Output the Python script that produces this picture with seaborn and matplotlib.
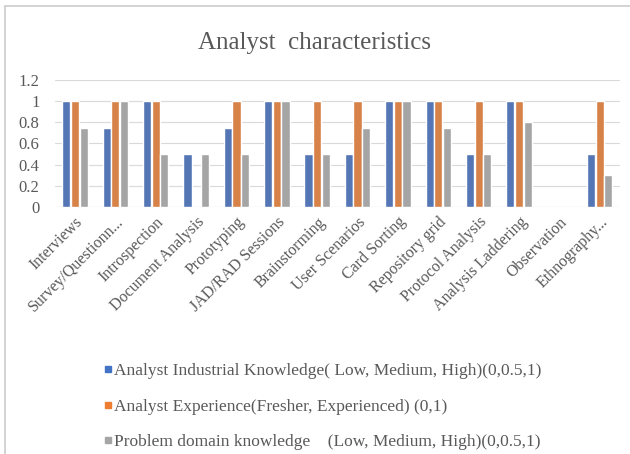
import numpy as np
import pandas as pd
import seaborn as sns
from matplotlib import pyplot as plt
from matplotlib.ticker import FuncFormatter
from matplotlib.lines import Line2D

techniques = ['Interviews', 'Survey/Questionn...', 'Introspection', 'Document Analysis',
              'Prototyping', 'JAD/RAD Sessions', 'Brainstorming', 'User Scenarios',
              'Card Sorting', 'Repository grid', 'Protocol Analysis', 'Analysis Laddering',
              'Observation', 'Ethnography...']
industrial = [1, 0.75, 1, 0.5, 0.75, 1, 0.5, 0.5, 1, 1, 0.5, 1, 0, 0.5]
experience = [1, 1, 1, 0, 1, 1, 1, 1, 1, 1, 1, 1, 0, 1]
domain = [0.75, 1, 0.5, 0.5, 0.5, 1, 0.5, 0.75, 1, 0.75, 0.5, 0.8, 0, 0.3]
series_names = ['Analyst Industrial Knowledge( Low, Medium, High)(0,0.5,1)',
                'Analyst Experience(Fresher, Experienced) (0,1)',
                'Problem domain knowledge    (Low, Medium, High)(0,0.5,1)']
colors = ['#4472C4', '#ED7D31', '#A5A5A5']

df = pd.DataFrame({'technique': techniques * 3,
                   'value': industrial + experience + domain,
                   'series': [series_names[0]] * 14 + [series_names[1]] * 14 + [series_names[2]] * 14})

sns.set_style('white')
plt.rcParams['font.family'] = ['Liberation Serif', 'DejaVu Serif']

fig = plt.figure(figsize=(6.3, 4.54), dpi=100)
ax = fig.add_axes([0.087, 0.544, 0.897, 0.28])
sns.barplot(data=df, x='technique', y='value', hue='series', palette=colors,
            width=0.64, gap=0.05, ax=ax, legend=False)

ax.set_ylim(0, 1.2)
ax.set_yticks([0, 0.2, 0.4, 0.6, 0.8, 1, 1.2])
ax.yaxis.set_major_formatter(FuncFormatter(lambda v, p: '%g' % v))
ax.grid(axis='y', color='#D9D9D9', linewidth=0.8)
ax.set_axisbelow(True)
for s in ax.spines.values():
    s.set_visible(False)
ax.axhline(0, color='#D9D9D9', linewidth=0.8, zorder=0)
ax.set_xlabel('')
ax.set_ylabel('')
ax.tick_params(axis='y', length=0, labelsize=12, colors='#595959', pad=11)
ax.tick_params(axis='x', length=0, labelsize=11.5, colors='#595959', pad=5)
plt.setp(ax.get_xticklabels(), rotation=45, ha='right', rotation_mode='anchor')

fig.text(0.5, 0.905, 'Analyst  characteristics', ha='center', va='center',
         fontsize=18, color='#595959')

handles = [Line2D([], [], marker='s', linestyle='', markersize=5, color=c) for c in colors]
fig.legend(handles, series_names, loc='upper left', bbox_to_anchor=(0.15, 0.216),
           frameon=False, fontsize=12.5, labelspacing=1.12, handletextpad=0.05,
           handlelength=0.7, labelcolor='#595959', borderaxespad=0)

# thin page frame
fig.add_artist(Line2D([0.008, 1], [0.987, 0.987], color='#CCCCCC', linewidth=1.2))
fig.add_artist(Line2D([0.008, 0.008], [0, 0.987], color='#CCCCCC', linewidth=1.2))

fig.savefig('out.png', dpi=100)
